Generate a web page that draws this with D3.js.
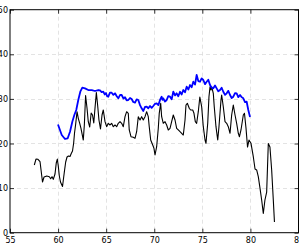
<!DOCTYPE html>
<html><head><meta charset="utf-8">
<script src="https://cdn.jsdelivr.net/npm/d3@7"></script>
<style>html,body{margin:0;padding:0;background:#fff;overflow:hidden}</style>
</head><body>
<svg id="chart" width="299" height="243"></svg>
<script>
const xTicks = [55, 60, 65, 70, 75, 80, 85];
const yTicks = [0, 10, 20, 30, 40, 50];

const blackX = [57.53,57.70,57.91,58.12,58.38,58.54,58.82,59.09,59.23,59.37,59.50,59.68,59.81,59.92,60.02,60.13,60.25,60.46,60.65,60.79,60.93,61.08,61.24,61.37,61.50,61.62,61.71,61.83,61.97,62.10,62.25,62.38,62.52,62.62,62.73,62.86,63.01,63.14,63.29,63.44,63.58,63.71,63.84,63.98,64.12,64.25,64.41,64.57,64.70,64.88,65.05,65.22,65.40,65.57,65.74,65.92,66.09,66.26,66.44,66.61,66.78,66.96,67.13,67.30,67.40,67.58,67.82,68.00,68.17,68.34,68.52,68.69,68.86,69.04,69.21,69.38,69.48,69.63,69.84,69.97,70.08,70.25,70.42,70.52,70.67,70.77,70.94,71.12,71.29,71.46,71.64,71.81,71.98,72.16,72.33,72.50,72.68,72.85,73.02,73.20,73.30,73.44,73.64,73.79,74.00,74.13,74.27,74.41,74.58,74.74,74.93,75.10,75.28,75.38,75.56,75.69,75.80,75.90,75.97,76.14,76.24,76.42,76.60,76.73,76.94,77.01,77.18,77.36,77.53,77.70,77.88,78.05,78.22,78.40,78.57,78.74,78.86,79.02,79.26,79.38,79.54,79.70,79.85,80.06,80.30,80.48,80.65,80.82,81.00,81.17,81.34,81.51,81.69,81.86,82.03,82.21,82.38,82.50];
const blackY = [15.18,16.52,16.46,15.96,11.37,12.49,12.71,12.56,12.11,12.56,11.97,13.16,15.63,16.52,14.95,12.71,11.37,10.36,13.61,15.85,16.97,17.20,17.08,17.76,18.32,20.11,22.35,24.37,27.13,25.65,24.53,23.41,21.90,20.78,24.15,30.76,27.89,24.89,23.70,26.84,26.39,24.60,27.96,31.43,28.41,25.27,23.25,26.39,27.51,24.89,23.77,24.53,24.15,24.53,23.77,24.15,23.77,24.53,24.89,24.53,23.77,26.01,27.13,26.77,23.03,21.52,21.39,21.16,22.64,26.01,25.27,26.01,25.27,26.01,27.13,26.01,23.77,20.78,19.66,18.92,17.42,19.28,23.41,26.77,29.01,26.01,24.53,24.89,24.15,23.03,23.41,24.89,26.39,25.27,23.41,23.03,22.64,22.29,21.90,25.27,28.63,29.01,27.89,27.51,27.51,26.77,24.89,24.53,27.13,30.42,28.25,23.77,20.78,20.04,24.53,30.49,32.73,31.99,32.73,31.25,28.25,23.77,20.78,23.77,29.75,30.87,28.25,24.89,24.53,23.77,22.29,26.39,28.63,26.39,24.53,22.29,21.52,23.03,26.39,26.77,23.47,19.21,20.78,20.04,17.04,14.28,14.06,12.56,9.95,7.33,4.30,7.33,9.12,20.00,19.21,14.06,7.33,2.40];

const blueX = [59.99,60.38,60.72,61.00,61.24,61.48,61.69,61.89,62.10,62.31,62.52,62.80,63.14,63.50,63.84,64.18,64.36,64.53,64.70,64.85,64.98,65.10,65.22,65.40,65.57,65.75,65.92,66.10,66.26,66.45,66.61,66.80,66.96,67.13,67.30,67.48,67.65,67.82,68.00,68.17,68.34,68.52,68.69,68.86,69.04,69.21,69.38,69.56,69.73,69.90,70.08,70.25,70.43,70.60,70.77,70.86,70.94,71.12,71.29,71.46,71.64,71.81,71.98,72.16,72.33,72.50,72.68,72.85,73.02,73.20,73.37,73.55,73.72,73.89,74.06,74.24,74.41,74.58,74.76,74.93,75.10,75.28,75.45,75.62,75.80,75.97,76.14,76.32,76.49,76.66,76.84,77.01,77.18,77.36,77.53,77.70,77.88,78.05,78.22,78.40,78.57,78.74,78.92,79.09,79.26,79.44,79.61,79.78,79.96];
const blueY = [24.26,21.90,21.01,21.16,22.64,24.89,26.39,27.51,29.75,31.61,32.51,32.37,31.99,31.99,31.77,31.99,31.90,31.5,31.61,31.0,31.32,30.6,30.49,31.4,31.39,30.9,31.25,30.6,30.13,30.9,30.87,30.1,30.36,29.7,29.75,30.2,29.98,29.3,29.15,29.9,29.75,28.6,27.89,27.29,28.2,28.25,27.9,28.41,28.0,28.41,28.9,29.01,28.6,29.75,30.49,29.8,30.13,29.4,29.75,30.6,30.49,29.9,31.61,30.8,31.25,30.6,31.61,31.0,31.99,31.5,32.73,32.1,33.11,32.6,33.85,33.2,35.36,34.0,33.85,34.6,34.24,33.3,33.85,34.3,33.11,32.5,32.37,33.0,32.37,31.7,31.99,32.5,31.61,30.9,31.25,31.8,30.87,30.2,30.49,31.3,31.25,30.4,30.87,30.4,30.13,29.3,29.37,27.51,25.94];

const svg = d3.select("#chart");
const L = 10, R = 298.5, T = 9.7, B = 232.7;
const x = d3.scaleLinear().domain([55, 85]).range([L, R]);
const y = d3.scaleLinear().domain([0, 50]).range([B, T]);
const font = "'DejaVu Sans', sans-serif";

// grid
const grid = svg.append("g");
grid.selectAll("line.gx").data(xTicks.slice(1, -1)).join("line")
  .attr("x1", d => Math.round(x(d)) + 0.5).attr("x2", d => Math.round(x(d)) + 0.5)
  .attr("y1", T).attr("y2", B)
  .attr("stroke", "#dcdcdc").attr("stroke-width", 0.8).attr("stroke-dasharray", "4,3");
grid.selectAll("line.gy").data(yTicks.slice(1, -1)).join("line")
  .attr("y1", d => Math.round(y(d)) + 0.5).attr("y2", d => Math.round(y(d)) + 0.5)
  .attr("x1", L).attr("x2", R)
  .attr("stroke", "#dcdcdc").attr("stroke-width", 0.8).attr("stroke-dasharray", "4,3");

// lines
const blackData = blackX.map((v, i) => [v, blackY[i]]);
const blueData = blueX.map((v, i) => [v, blueY[i]]);
const line = d3.line().x(d => x(d[0])).y(d => y(d[1]));
svg.append("path").datum(blackData).attr("d", line)
  .attr("fill", "none").attr("stroke", "#000").attr("stroke-width", 1.1).attr("stroke-linejoin", "round");
svg.append("path").datum(blueData).attr("d", line)
  .attr("fill", "none").attr("stroke", "#0000ff").attr("stroke-width", 1.8).attr("stroke-linejoin", "round");

// axes (ticks inward on all sides)
const gBottom = svg.append("g").attr("transform", `translate(0,${B})`)
  .call(d3.axisBottom(x).tickValues(xTicks).tickSize(-4).tickPadding(6).tickFormat(d3.format("d")));
const gTop = svg.append("g").attr("transform", `translate(0,${T})`)
  .call(d3.axisTop(x).tickValues(xTicks).tickSize(-4).tickFormat(""));
const gLeft = svg.append("g").attr("transform", `translate(${L},0)`)
  .call(d3.axisLeft(y).tickValues(yTicks).tickSize(-4).tickPadding(2).tickFormat(d3.format("d")));
const gRight = svg.append("g").attr("transform", `translate(${R},0)`)
  .call(d3.axisRight(y).tickValues(yTicks).tickSize(-4).tickFormat(""));
[gBottom, gTop, gLeft, gRight].forEach(g => {
  g.select(".domain").remove();
  g.selectAll("line").attr("stroke", "#000").attr("stroke-width", 0.8);
  g.selectAll("text").attr("font-family", font).attr("font-size", 8).attr("fill", "#000");
});
gBottom.selectAll("text").attr("dy", "0.55em");

// frame
svg.append("rect").attr("x", L).attr("y", T).attr("width", R - L).attr("height", B - T)
  .attr("fill", "none").attr("stroke", "#000").attr("stroke-width", 1);
</script>
</body></html>
